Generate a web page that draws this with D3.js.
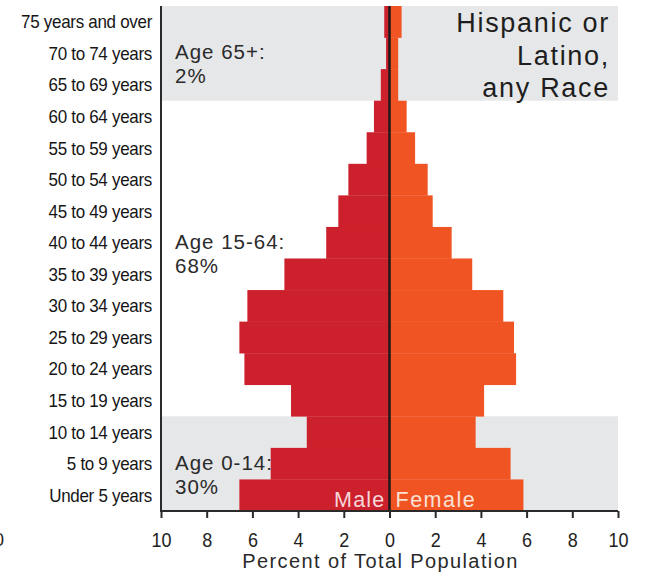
<!DOCTYPE html>
<html>
<head>
<meta charset="utf-8">
<script src="https://cdn.jsdelivr.net/npm/d3@7"></script>
<style>
  html, body { margin: 0; padding: 0; background: #fff; }
  svg { display: block; }
  text { font-family: "Liberation Sans", Arial, sans-serif; }
</style>
</head>
<body>
<svg id="chart" width="646" height="576"></svg>
<script>
const ageGroups = [
  "75 years and over", "70 to 74 years", "65 to 69 years", "60 to 64 years",
  "55 to 59 years", "50 to 54 years", "45 to 49 years", "40 to 44 years",
  "35 to 39 years", "30 to 34 years", "25 to 29 years", "20 to 24 years",
  "15 to 19 years", "10 to 14 years", "5 to 9 years", "Under 5 years"
];
const maleValues   = [0.23, 0.15, 0.38, 0.68, 1.00, 1.80, 2.24, 2.77, 4.60, 6.22, 6.57, 6.35, 4.31, 3.62, 5.20, 6.57];
const femaleValues = [0.53, 0.38, 0.38, 0.75, 1.12, 1.67, 1.89, 2.72, 3.62, 4.98, 5.45, 5.54, 4.14, 3.77, 5.30, 5.86];
const tickValues = [-10, -8, -6, -4, -2, 0, 2, 4, 6, 8, 10];
const shadedGroups = [
  { from: "75 years and over", to: "65 to 69 years" },
  { from: "10 to 14 years", to: "Under 5 years" }
];
const ageNotes = [
  { row: "70 to 74 years", lines: ["Age 65+:", "2%"] },
  { row: "40 to 44 years", lines: ["Age 15-64:", "68%"] },
  { row: "5 to 9 years", lines: ["Age 0-14:", "30%"] }
];
const titleLines = ["Hispanic or", "Latino,", "any Race"];
const axisTitle = "Percent of Total Population";

const svg = d3.select("#chart");
const x = d3.scaleLinear().domain([-10, 10]).range([161, 618]);
const y = d3.scaleBand().domain(ageGroups).range([6, 511]).padding(0);

// shaded age bands
svg.append("g").selectAll("rect").data(shadedGroups).join("rect")
  .attr("x", x(-10)).attr("width", x(10) - x(-10))
  .attr("y", d => y(d.from))
  .attr("height", d => y(d.to) + y.bandwidth() - y(d.from))
  .attr("fill", "#e6e7e8");

// bars
const rows = ageGroups.map((a, i) => ({ age: a, m: maleValues[i], f: femaleValues[i] }));
svg.append("g").selectAll("rect").data(rows).join("rect")
  .attr("x", d => x(-d.m)).attr("width", d => x(0) - x(-d.m))
  .attr("y", d => y(d.age)).attr("height", y.bandwidth() + 0.3)
  .attr("fill", "#cc212c");
svg.append("g").selectAll("rect").data(rows).join("rect")
  .attr("x", x(0)).attr("width", d => x(d.f) - x(0))
  .attr("y", d => y(d.age)).attr("height", y.bandwidth() + 0.3)
  .attr("fill", "#f05423");

// centre line
svg.append("line").attr("x1", x(0)).attr("x2", x(0)).attr("y1", 6).attr("y2", 511)
  .attr("stroke", "#1a1a1a").attr("stroke-width", 2.5);

// left axis with labels
svg.append("line").attr("x1", x(-10)).attr("x2", x(-10)).attr("y1", 6).attr("y2", 512)
  .attr("stroke", "#2a2a2a").attr("stroke-width", 2);
svg.append("g").selectAll("text").data(ageGroups).join("text")
  .attr("text-anchor", "end")
  .attr("font-size", 17).attr("fill", "#151515")
  .attr("letter-spacing", -0.3)
  .attr("transform", d => `translate(152,${y(d) + y.bandwidth() / 2 + 6.5}) scale(1,1.1)`)
  .text(d => d);

// bottom axis
const xAxis = d3.axisBottom(x).tickValues(tickValues)
  .tickFormat(d => Math.abs(d)).tickSize(7).tickPadding(0);
const gx = svg.append("g").attr("transform", "translate(0,511)").call(xAxis);
gx.select(".domain").attr("stroke", "#2a2a2a").attr("stroke-width", 2).attr("d", `M${x(-10)},0H${x(10)}`);
gx.selectAll(".tick line").attr("stroke", "#2a2a2a").attr("stroke-width", 2);
gx.selectAll(".tick text").attr("font-size", 18).attr("fill", "#1e1e1e")
  .attr("font-family", "Liberation Sans, Arial, sans-serif")
  .attr("y", 0).attr("dy", 0)
  .attr("transform", "translate(0,36) scale(1,1.1)");

// left partial label artifact (cut off in the reference too)
svg.append("text").attr("x", 4).attr("y", 546).attr("text-anchor", "end")
  .attr("font-size", 18).attr("fill", "#1e1e1e").text("0");

// axis title
svg.append("text").attr("x", (241 + 520) / 2).attr("y", 568).attr("text-anchor", "middle")
  .attr("font-size", 20).attr("letter-spacing", 1.4).attr("fill", "#2a2a2a")
  .text(axisTitle);

// Male / Female labels
svg.append("text").attr("x", x(0) - 4).attr("y", 507).attr("text-anchor", "end")
  .attr("font-size", 21.5).attr("letter-spacing", 1.2).attr("fill", "#f6d6da").text("Male");
svg.append("text").attr("x", x(0) + 6).attr("y", 507).attr("text-anchor", "start")
  .attr("font-size", 21.5).attr("letter-spacing", 1.5).attr("fill", "#fbe0d4").text("Female");

// age notes
ageNotes.forEach(n => {
  const t = svg.append("text").attr("x", 175).attr("font-size", 20.5)
    .attr("letter-spacing", 1).attr("fill", "#2b2b2b");
  n.lines.forEach((l, i) => {
    t.append("tspan").attr("x", 175)
      .attr("y", y(n.row) + y.bandwidth() / 2 + 6 + i * 24).text(l);
  });
});

// title
const tt = svg.append("text").attr("text-anchor", "end").attr("font-size", 27)
  .attr("letter-spacing", 1.7).attr("fill", "#1e1e1e");
titleLines.forEach((l, i) => {
  tt.append("tspan").attr("x", 610).attr("y", 32 + i * 32.5).text(l);
});
</script>
</body>
</html>
